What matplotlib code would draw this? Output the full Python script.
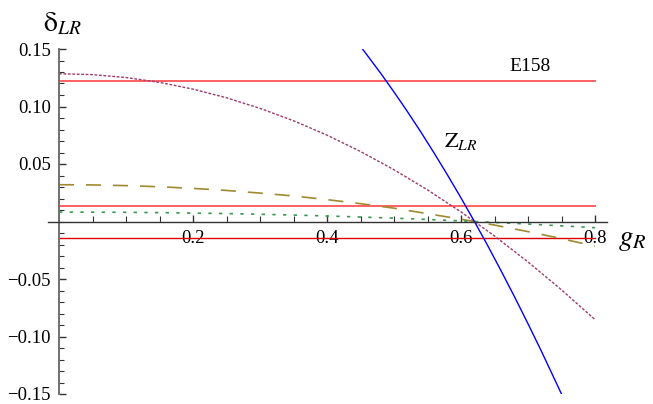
import matplotlib
matplotlib.use("Agg")

import matplotlib.pyplot as plt
from matplotlib.ticker import MultipleLocator, FixedLocator

plt.rcParams["font.family"] = ["Liberation Serif", "DejaVu Serif"]
plt.rcParams["mathtext.fontset"] = "stix"

# horizontal bounds (E158 band and lower limit)
e158_upper = 0.122
e158_lower = 0.0135
lower_limit = -0.014
band_x = [0.0, 0.8]

# Z_LR curve
zlr_x = [0.453, 0.48, 0.50, 0.52, 0.54, 0.56, 0.58, 0.60, 0.62,
         0.64, 0.66, 0.68, 0.70, 0.72, 0.75]
zlr_y = [0.150, 0.129, 0.1126, 0.0956, 0.0779, 0.0594, 0.0403, 0.0205, 0.0,
         -0.0211, -0.0431, -0.0656, -0.0889, -0.1128, -0.150]

# model curves, read at fixed g_R
g_r = [0.0, 0.05, 0.1, 0.15, 0.2, 0.25, 0.3, 0.35, 0.4,
       0.45, 0.5, 0.55, 0.6, 0.65, 0.7, 0.75, 0.8]
delta_purple = [0.1285, 0.1277, 0.1252, 0.1210, 0.1151, 0.1076, 0.0984, 0.0876, 0.0751,
                0.0609, 0.0450, 0.0275, 0.0083, -0.0126, -0.0352, -0.0594, -0.0853]
delta_olive = [0.0320, 0.0318, 0.0312, 0.0302, 0.0288, 0.0270, 0.0247, 0.0222, 0.0190,
               0.0155, 0.0116, 0.0068, 0.0020, -0.0031, -0.0088, -0.0149, -0.0215]
delta_green = [0.0082, 0.0081, 0.0080, 0.0077, 0.0073, 0.0069, 0.0063, 0.0056, 0.0048,
               0.0039, 0.0029, 0.0018, 0.0005, -0.0008, -0.0022, -0.0038, -0.0054]

x_major = [0.2, 0.4, 0.6, 0.8]
y_major = [-0.15, -0.10, -0.05, 0.05, 0.10, 0.15]

fig = plt.figure(figsize=(6.53, 4.04), dpi=100)
ax = fig.add_axes([48 / 653, 10 / 404, 559 / 653, 345 / 404])

ax.plot(band_x, [e158_upper] * 2, color="#ff6060", lw=1.4)
ax.plot(band_x, [e158_lower] * 2, color="#ff6060", lw=1.4)
ax.plot(band_x, [lower_limit] * 2, color="#dd0000", lw=1.0)

ax.plot(g_r, delta_purple, color="#a03a70", lw=1.0, dashes=(2, 1.2))
ax.plot(g_r, delta_olive, color="#a08a30", lw=1.2, dashes=(9, 7.2))
ax.plot(g_r, delta_green, color="#3a9a55", lw=1.2, dashes=(2, 4.4))
ax.plot(zlr_x, zlr_y, color="#0000ff", lw=1.0)

ax.set_xlim(-11 / 670, 0.8 + 12 / 670)
ax.set_ylim(-0.15, 0.15)

for side in ["top", "right"]:
    ax.spines[side].set_visible(False)
ax.spines["left"].set_position(("data", 0))
ax.spines["bottom"].set_position(("data", 0))
ax.spines["left"].set_color("#707070")
ax.spines["left"].set_linewidth(1.4)
ax.spines["bottom"].set_color("#333333")
ax.spines["bottom"].set_linewidth(1.0)

ax.xaxis.set_major_locator(FixedLocator(x_major))
ax.xaxis.set_minor_locator(MultipleLocator(0.05))
ax.yaxis.set_major_locator(FixedLocator(y_major))
ax.yaxis.set_minor_locator(MultipleLocator(0.01))
ax.set_xticklabels(["0.2", "0.4", "0.6", "0.8"])
ax.set_yticklabels(["\u22120.15", "\u22120.10", "\u22120.05", "0.05", "0.10", "0.15"])

ax.tick_params(axis="both", which="both", direction="in", color="#333333", labelsize=13.5)
ax.tick_params(axis="x", which="major", length=5, width=1.0, pad=6)
ax.tick_params(axis="x", which="minor", length=4, width=0.8)
ax.tick_params(axis="y", which="major", length=5, width=1.0, pad=6)
ax.tick_params(axis="y", which="minor", length=3.5, width=0.8)

ax.text(0.703, 0.1345, "E158", fontsize=14, ha="center", va="center")
ax.text(0.600, 0.070, r"$\mathrm{Z}_{LR}$", fontsize=16, ha="center", va="center")

fig.text(62 / 653, 1 - 24 / 404, r"$\mathrm{\delta}_{LR}$", fontsize=20, ha="center", va="center")
fig.text(632 / 653, 1 - 240 / 404, r"$g_R$", fontsize=21, ha="center", va="center")

plt.savefig("out.png", dpi=100)
plt.close(fig)
